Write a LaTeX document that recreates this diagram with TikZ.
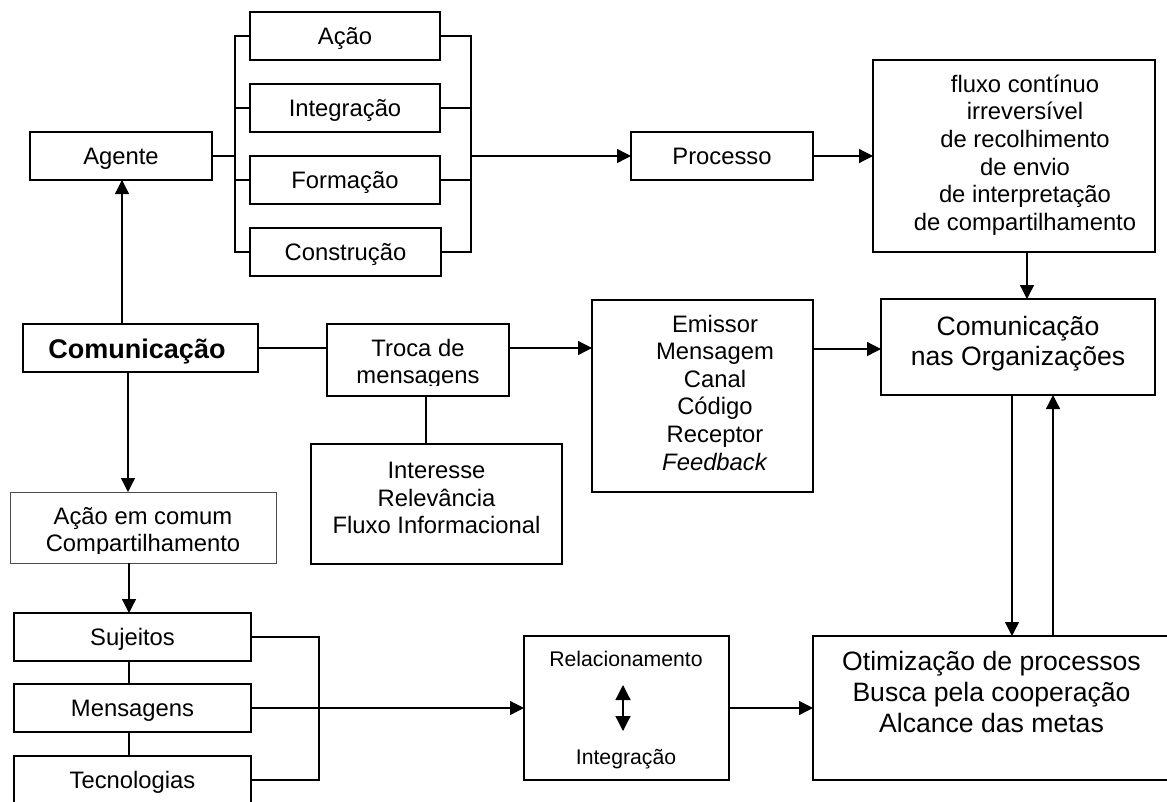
\documentclass[tikz,border=0pt]{standalone}
\usepackage{fontspec}
\setmainfont{Liberation Sans}
\usetikzlibrary{arrows.meta}
\begin{document}
\begin{tikzpicture}[x=1pt,y=-1pt,
  box/.style={draw, line width=1.3pt, rectangle, inner sep=0pt, outer sep=0pt},
  thinbox/.style={draw=black!70, line width=0.8pt, rectangle, inner sep=0pt, outer sep=0pt},
  txt/.style={font=\fontsize{23.8}{27.6}\selectfont, align=center, inner sep=0pt},
  onetxt/.style={txt, text height=17pt, text depth=0pt},
  bigtxt/.style={font=\fontsize{26.6}{30.6}\selectfont, align=center, inner sep=0pt},
  smalltxt/.style={font=\fontsize{21.2}{24}\selectfont, align=center, inner sep=0pt},
  link/.style={line width=1.3pt},
  arr/.style={line width=1.3pt, -{Triangle[length=14pt,width=14pt]}},
  dblarr/.style={line width=1.3pt, {Triangle[length=15pt,width=15pt]}-{Triangle[length=15pt,width=15pt]}},
]
\clip (0,0) rectangle (1167,801);
\fill[white] (0,0) rectangle (1167,801);

% ---- upper branch: agent and its four facets
\node[box,onetxt,minimum width=182pt,minimum height=48pt] (agente) at (121,156) {Agente};
\node[box,onetxt,minimum width=190pt,minimum height=48pt] (acao)   at (345,36)  {Ação};
\node[box,onetxt,minimum width=190pt,minimum height=48pt] (integ)  at (345,108) {Integração};
\node[box,onetxt,minimum width=190pt,minimum height=48pt] (form)   at (345,180) {Formação};
\node[box,onetxt,minimum width=191pt,minimum height=48pt] (constr) at (345.5,252) {Construção};
\node[box,onetxt,minimum width=182pt,minimum height=48pt] (proc)   at (722,156) {Processo};
\node[box,minimum width=282pt,minimum height=192pt] (fluxo) at (1014,156) {};
\node[txt] (fluxo-t) at (1025,155) {fluxo contínuo\\irreversível\\de recolhimento\\de envio\\de interpretação\\de compartilhamento};

\coordinate (lb) at (235,156);
\coordinate (rb) at (471,156);

% ---- middle row
\node[box,minimum width=235pt,minimum height=48pt] (com) at (140.5,348) {};
\node[inner sep=0pt,text height=19.3pt,text depth=0pt,
      font=\bfseries\fontsize{27}{31}\selectfont] (com-t) at (137,349) {Comunicação};
\node[box,minimum width=182pt,minimum height=72pt] (troca) at (418,360) {};
\begin{scope}
  \clip (327,324) rectangle (509,385);
  \node[txt] (troca-t) at (418,364) {Troca de\\mensagens};
\end{scope}
\node[box,minimum width=251pt,minimum height=120pt] (inter) at (436.5,504) {};
\node[txt] (inter-t) at (436.5,498) {Interesse\\Relevância\\Fluxo Informacional};
\node[box,minimum width=221pt,minimum height=192pt] (emis) at (702.5,396) {};
\node[txt] (emis-t) at (715,392.5) {Emissor\\Mensagem\\Canal\\Código\\Receptor\\\textit{Feedback}};
\node[box,minimum width=274pt,minimum height=96pt] (comorg) at (1018,347) {};
\node[bigtxt] (comorg-t) at (1018,343.5) {Comunicação\\nas Organizações};

% ---- lower branch
\node[thinbox,minimum width=266pt,minimum height=71pt] (acaoc) at (143,527.5) {};
\begin{scope}
  \clip (10,492) rectangle (276,553);
  \node[txt] (acaoc-t) at (143,532) {Ação em comum\\Compartilhamento};
\end{scope}
\node[box,onetxt,minimum width=237pt,minimum height=48pt] (suj)  at (132.5,637) {Sujeitos};
\node[box,onetxt,minimum width=237pt,minimum height=48pt] (mens) at (132.5,708) {Mensagens};
\node[box,onetxt,minimum width=237pt,minimum height=48pt] (tec)  at (132.5,780) {Tecnologias};
\coordinate (mb) at (319,708);

\node[box,minimum width=205pt,minimum height=144pt] (rel) at (626.5,708) {};
\node[smalltxt] (rel-t) at (626,659) {Relacionamento};
\node[smalltxt] (rel-b) at (626,759) {Integração};
\coordinate (da1) at (623,685);
\coordinate (da2) at (623,731);
\draw[dblarr] (da1) -- (da2);

\node[box,minimum width=362pt,minimum height=144pt] (otim) at (994,708) {};
\node[bigtxt] (otim-t) at (991.5,692) {Otimização de processos\\Busca pela cooperação\\Alcance das metas};

% ---- connectors
\draw[link] (agente.east) -- (lb);
\draw[link] (acao.west) -| (lb) |- (constr.west);
\draw[link] (integ.west) -| (lb);
\draw[link] (form.west) -| (lb);
\draw[link] (acao.east) -| (rb) |- (constr.east);
\draw[link] (integ.east) -| (rb);
\draw[link] (form.east) -| (rb);
\draw[arr] (rb) -- (proc.west);
\draw[arr] (proc.east) -- (fluxo.west);
\draw[arr] ([xshift=13pt]fluxo.south) -- ([xshift=13pt]fluxo.south |- comorg.north);

\draw[arr] ([xshift=1pt]agente.south |- com.north) -- ([xshift=1pt]agente.south);
\draw[arr] ([xshift=-12.5pt]com.south) -- ([xshift=-12.5pt]com.south |- acaoc.north);
\draw[link] (com.east) -- (com.east -| troca.west);
\draw[arr] ([yshift=12pt]troca.east) -- ([yshift=12pt]troca.east -| emis.west);
\draw[link] ([xshift=8pt]troca.south) -- ([xshift=8pt]troca.south |- inter.north);
\draw[arr] ([yshift=47pt]emis.east) -- ([yshift=47pt]emis.east -| comorg.west);
\draw[arr] ([xshift=-6pt]comorg.south) -- ([xshift=-6pt]comorg.south |- otim.north);
\draw[arr] ([xshift=35pt]comorg.south |- otim.north) -- ([xshift=35pt]comorg.south);

\draw[arr] ([xshift=-3.5pt]suj.north |- acaoc.south) -- ([xshift=-3.5pt]suj.north);
\draw[link] ([xshift=-3.5pt]suj.south) -- ([xshift=-3.5pt]mens.north);
\draw[link] ([xshift=-3.5pt]mens.south) -- ([xshift=-3.5pt]tec.north);
\draw[link] (suj.east) -| (mb) |- (tec.east);
\draw[arr] (mens.east) -- (rel.west);
\draw[arr] (rel.east) -- (otim.west);
\end{tikzpicture}
\end{document}
